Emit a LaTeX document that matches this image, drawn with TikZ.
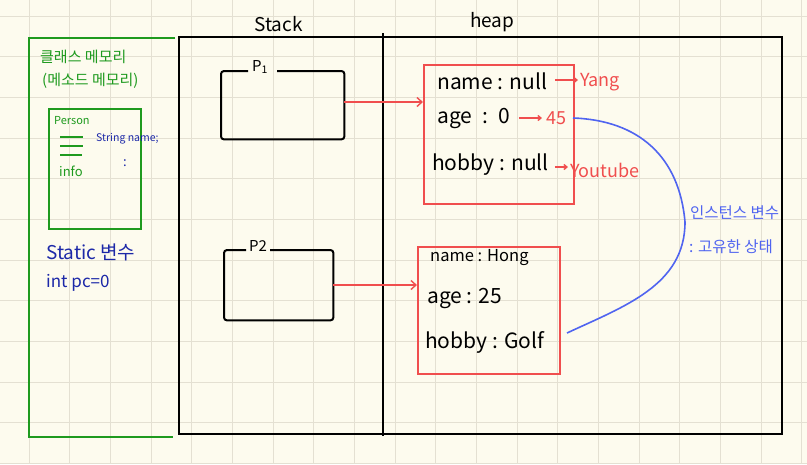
\documentclass[tikz,border=0pt]{standalone}
\usepackage{fontspec}
\setmainfont{Noto Sans CJK KR}
\usetikzlibrary{arrows.meta}
\definecolor{bg}{HTML}{FDFBEE}
\definecolor{gridc}{HTML}{E4E0D2}
\definecolor{grn}{HTML}{1E9A1E}
\definecolor{dblue}{HTML}{1C28A8}
\definecolor{rd}{HTML}{F04E4E}
\definecolor{lblue}{HTML}{5064F0}
\begin{document}
\begin{tikzpicture}[x=1pt,y=-1pt,
  gridline/.style={gridc,line width=1pt},
  blk/.style={draw=black,line width=2.2pt,inner sep=0pt},
  refbox/.style={draw=none,inner sep=0pt,anchor=north west},
  heapbox/.style={draw=rd,line width=1.8pt,inner sep=0pt,anchor=north west},
  txt/.style={inner sep=0pt,anchor=west},
  htxt/.style={txt,font=\fontsize{21}{21}\selectfont},
  rtxt/.style={txt,text=rd,font=\fontsize{18}{18}\selectfont},
  gtxt/.style={txt,text=grn},
  btxt/.style={txt,text=dblue},
  ltxt/.style={txt,text=lblue,font=\fontsize{15.5}{15.5}\selectfont},
  rarrow/.style={draw=rd,line width=1.4pt,-{Straight Barb[length=5pt,width=9pt]}},
  sarrow/.style={draw=rd,line width=1.4pt,-{Straight Barb[length=3pt,width=5pt]}}
]
\fill[bg] (0,0) rectangle (807,464);
\useasboundingbox (0,0) rectangle (807,464);
% grid
\foreach \i in {0,...,19}{\draw[gridline] ({29+40.68*\i},0) -- ({29+40.68*\i},464);}
\foreach \j in {0,...,11}{\draw[gridline] (0,{16+40.68*\j}) -- (807,{16+40.68*\j});}

% class memory (green)
\draw[grn,line width=2pt] (175,38) -- (29,38) -- (29,437) -- (173,437);
\node[gtxt,font=\fontsize{15}{15}\selectfont] (cm1) at (40,57) {클래스 메모리};
\node[gtxt,font=\fontsize{15}{15}\selectfont] (cm2) at (42,81) {(메소드 메모리)};
\node[draw=grn,line width=2pt,inner sep=0pt,anchor=north west,minimum width=92,minimum height=120] (person) at (48,108) {};
\node[gtxt,font=\fontsize{11}{11}\selectfont] (pname) at (54,121) {Person};
\draw[grn,line width=1.3pt] (60,137) -- (83,137) (60,146) -- (83,146) (60,155) -- (82,155);
\node[gtxt,font=\fontsize{13}{13}\selectfont] (info) at (59,171) {info};
\node[btxt,font=\fontsize{10.5}{10.5}\selectfont] (sname) at (96,139) {String name;};
\node[btxt,font=\fontsize{13}{13}\selectfont,anchor=center] (dots) at (125,163) {:};
\node[btxt,font=\fontsize{19}{19}\selectfont] (stat) at (46,252) {Static 변수};
\node[btxt,font=\fontsize{17}{17}\selectfont] (pc) at (46,283) {int pc=0};

% stack / heap frame
\node[blk,anchor=north west,minimum width=603,minimum height=397] (frame) at (178,36) {};
\coordinate (divtop) at (383,33);
\coordinate (divbot) at (383,436);
\draw[black,line width=2.2pt] (divtop) -- (divbot);
\node[txt,font=\fontsize{19}{19}\selectfont] (stack) at (254,24) {Stack};
\node[txt,font=\fontsize{19}{19}\selectfont] (heap) at (470,22) {heap};

% P1
\node[refbox,minimum width=123,minimum height=68] (p1) at (221,71) {};
\node[txt,font=\fontsize{15}{15}\selectfont] (p1l) at (252,67) {P\textsubscript{1}};
\draw[black,line width=2pt,rounded corners=3pt] ([xshift=-4pt]p1l.west |- p1.north) -- (p1.north west) -- (p1.south west) -- (p1.south east) -- (p1.north east) -- ([xshift=9pt]p1l.east |- p1.north);
% P2
\node[refbox,minimum width=109,minimum height=70] (p2) at (224,250) {};
\node[txt,font=\fontsize{15}{15}\selectfont] (p2l) at (249,246) {P2};
\draw[black,line width=2pt,rounded corners=3pt] ([xshift=-3pt]p2l.west |- p2.north) -- (p2.north west) -- (p2.south west) -- (p2.south east) -- (p2.north east) -- ([xshift=3pt]p2l.east |- p2.north);

% heap object 1
\node[heapbox,minimum width=150,minimum height=139] (h1) at (423,64) {};
\node[htxt] (n1) at (437,81) {name : null};
\node[htxt] (a1) at (437,118) {age\hspace{10pt}:\hspace{10pt}0};
\node[htxt] (b1) at (432,165) {hobby : null};
\node[rtxt] (yang) at (580,82) {Yang};
\node[rtxt] (v45) at (546,118) {45};
\node[rtxt] (yt) at (570,170) {Youtube};
\draw[sarrow] ([xshift=8pt]n1.east |- 0,80) -- ([xshift=-2pt]yang.west |- 0,80);
\draw[sarrow] ([xshift=9pt]a1.east) -- ([xshift=-4pt]v45.west);
\draw[sarrow] ([xshift=6pt]b1.east |- 0,167) -- ([xshift=-2pt]yt.west |- 0,167);

% heap object 2
\node[heapbox,minimum width=142,minimum height=127] (h2) at (417,246) {};
\node[htxt,font=\fontsize{16.5}{16.5}\selectfont] (n2) at (430,258) {name : Hong};
\node[htxt] (a2) at (427,298) {age : 25};
\node[htxt] (b2) at (425,342) {hobby : Golf};

% references
\draw[rarrow] (p1.east |- 0,102) -- (h1.west |- 0,102);
\draw[rarrow] (p2.east |- 0,285) -- (h2.west |- 0,285);

% instance variable annotation
\coordinate (cstart) at (573,118);
\coordinate (cpeak) at (685,222);
\coordinate (cend) at (567,333);
\draw[lblue,line width=1.6pt] (cstart) to[out=-2,in=95,looseness=1.1] (cpeak) to[out=-90,in=25,looseness=1.0] (cend);
\node[ltxt] (iv1) at (690,213) {인스턴스 변수};
\node[ltxt] (iv2) at (689,247) {: 고유한 상태};
\end{tikzpicture}
\end{document}
